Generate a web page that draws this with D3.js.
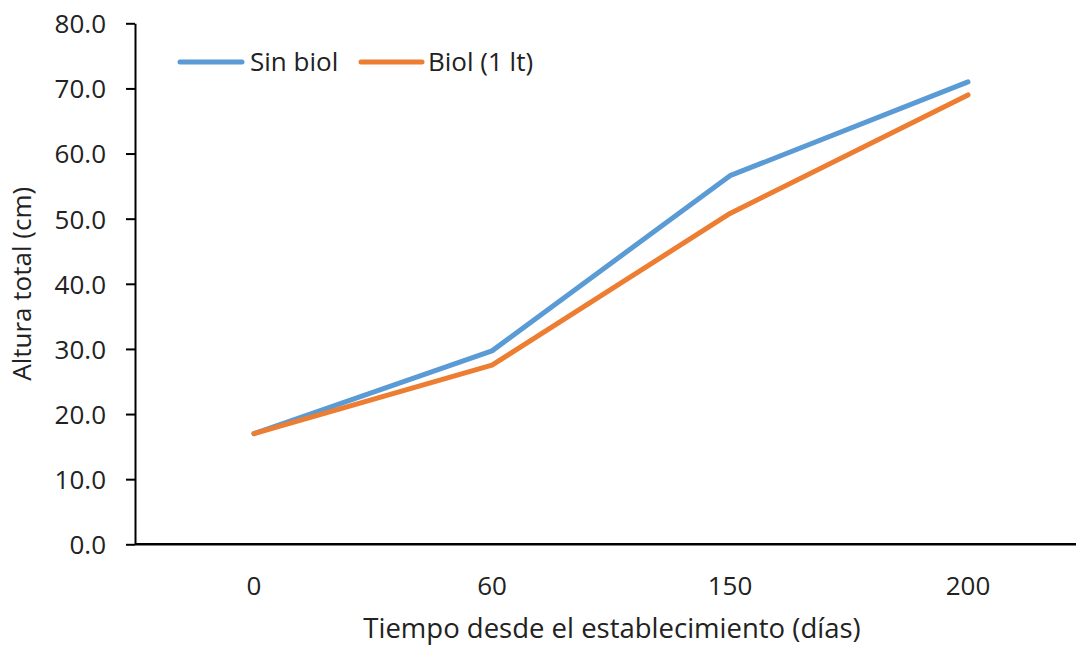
<!DOCTYPE html>
<html>
<head>
<meta charset="utf-8">
<script src="https://cdn.jsdelivr.net/npm/d3@7"></script>
<style>
  body { margin: 0; background: #fff; }
  svg { display: block; }
  text { font-family: "Open Sans", "Noto Sans", sans-serif; }
</style>
</head>
<body>
<svg id="chart" width="1078" height="647"></svg>
<script>
const categories = ["0", "60", "150", "200"];
const sinBiol = [17.0, 29.7, 56.6, 71.0];
const biol1lt = [17.0, 27.5, 50.8, 69.0];
const yTicks = [0, 10, 20, 30, 40, 50, 60, 70, 80];
const seriesNames = ["Sin biol", "Biol (1 lt)"];
const seriesColors = ["#5B9BD5", "#ED7D31"];

const FS = 26;
const svg = d3.select("#chart");
const plotLeft = 135, plotRight = 1076, plotTop = 23.3, plotBottom = 544.3;

const x = d3.scaleBand().domain(categories).range([plotLeft, plotRight + 11]).padding(0);
const y = d3.scaleLinear().domain([0, 80]).range([plotBottom, plotTop]);

// Y axis
const yAxis = d3.axisLeft(y).tickValues(yTicks).tickFormat(d3.format(".1f")).tickSize(9).tickSizeOuter(0);
const gy = svg.append("g").attr("transform", `translate(${plotLeft},0)`).call(yAxis);
gy.attr("font-family", null).attr("font-size", null);
gy.select(".domain").attr("stroke", "#000").attr("stroke-width", 2);
gy.selectAll(".tick line").attr("stroke", "#000").attr("stroke-width", 2);
gy.selectAll(".tick text").style("font-size", FS + "px").attr("fill", "#222").attr("x", -29).attr("dy", "0.36em");

// X axis
const xAxis = d3.axisBottom(x).tickSize(0).tickSizeOuter(0);
const gx = svg.append("g").attr("transform", `translate(0,${plotBottom})`).call(xAxis);
gx.attr("font-family", null).attr("font-size", null);
gx.select(".domain").attr("d", `M${plotLeft},0H${plotRight}`).attr("stroke", "#000").attr("stroke-width", 2.5);
gx.selectAll(".tick text").style("font-size", FS + "px").attr("fill", "#222").attr("y", 51).attr("dy", "0");

// Lines
const line = d3.line().x((d, i) => x(categories[i]) + x.bandwidth() / 2).y(d => y(d));
[sinBiol, biol1lt].forEach((vals, k) => {
  svg.append("path").datum(vals)
    .attr("d", line)
    .attr("fill", "none")
    .attr("stroke", seriesColors[k])
    .attr("stroke-width", 5)
    .attr("stroke-linecap", "round")
    .attr("stroke-linejoin", "round");
});

// Legend
const legendItems = [{x0: 180, x1: 242, tx: 250}, {x0: 361, x1: 422, tx: 428}];
legendItems.forEach((it, k) => {
  svg.append("line").attr("x1", it.x0).attr("x2", it.x1).attr("y1", 62).attr("y2", 62)
    .attr("stroke", seriesColors[k]).attr("stroke-width", 5).attr("stroke-linecap", "round");
  svg.append("text").attr("x", it.tx).attr("y", 62).attr("dy", "0.36em")
    .style("font-size", FS + "px").attr("fill", "#222").text(seriesNames[k]);
});

// Axis titles
svg.append("text").attr("x", 612).attr("y", 638)
  .attr("text-anchor", "middle").style("font-size", "27.5px").attr("fill", "#222")
  .text("Tiempo desde el establecimiento (días)");
svg.append("text").attr("transform", `translate(31,${(plotTop + plotBottom) / 2}) rotate(-90)`)
  .attr("text-anchor", "middle").style("font-size", FS + "px").attr("fill", "#222")
  .text("Altura total (cm)");
</script>
</body>
</html>
